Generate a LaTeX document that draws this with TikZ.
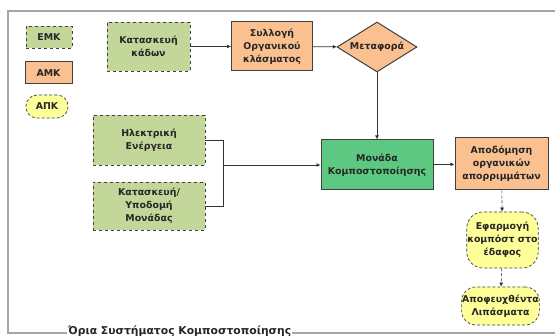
\documentclass[tikz,border=0pt]{standalone}
\usepackage{fontspec}
\setmainfont{DejaVu Sans}
\usetikzlibrary{shapes.geometric,arrows.meta}
\definecolor{emkgreen}{HTML}{C4D79B}
\definecolor{amkorange}{HTML}{FAC090}
\definecolor{apkyellow}{HTML}{FFFF99}
\definecolor{unitgreen}{HTML}{5CC882}
\definecolor{edgegray}{HTML}{404040}
\tikzset{
  lbl/.style={font=\bfseries\fontsize{9.4}{12.8}\selectfont, align=center, text=black!85, inner sep=0.5pt},
  emkbox/.style={lbl, draw=edgegray, dashed, line width=0.9pt, fill=emkgreen, minimum width=#1},
  amkbox/.style={lbl, draw=edgegray, line width=1pt, fill=amkorange},
  apkbox/.style={lbl, draw=edgegray, densely dashed, line width=0.7pt, fill=apkyellow, rounded corners=11pt},
  conn/.style={draw=black!80, line width=0.8pt},
  arr/.style={conn, -{Latex[length=4pt,width=4pt]}},
  darr/.style={arr, densely dashed, line width=0.6pt}
}
\begin{document}
\begin{tikzpicture}[x=1pt,y=-1pt]
\useasboundingbox (0,0) rectangle (555,336);
\fill[white] (0,0) rectangle (555,336);
% system boundary frame
\draw[gray!70, line width=1.6pt] (8,11) rectangle (575,333);
\node[anchor=north west, fill=white, inner sep=1pt, font=\bfseries\fontsize{10.8}{12}\selectfont, text=black!85] (bound) at (67,325) {Όρια Συστήματος Κομποστοποίησης};

% legend
\node[emkbox=46pt, minimum height=22pt] (emk) at (49,37) {ΕΜΚ};
\node[amkbox, minimum width=47pt, minimum height=22pt] (amk) at (48.5,73) {ΑΜΚ};
\node[apkbox, minimum width=42pt, minimum height=23pt] (apk) at (47,106.5) {ΑΠΚ};

% process nodes
\node[emkbox=83pt, minimum height=49pt] (kados) at (148.5,46.5) {Κατασκευή\\κάδων};
\node[amkbox, minimum width=81pt, minimum height=49pt] (syll) at (272,46.5) {Συλλογή\\Οργανικού\\κλάσματος};
\node[diamond, aspect=1.6, draw=edgegray, line width=1pt, fill=amkorange, lbl, minimum width=80pt, minimum height=50pt, inner sep=0pt] (metaf) at (377,47) {Μεταφορά};
\node[emkbox=112pt, minimum height=50pt] (ilek) at (149,140) {Ηλεκτρική\\Ενέργεια};
\node[emkbox=112pt, minimum height=48pt] (ypod) at (149,206) {Κατασκευή/\\Υποδομή\\Μονάδας};
\node[lbl, draw=edgegray, line width=1pt, fill=unitgreen, minimum width=112pt, minimum height=50pt] (unit) at (377,165) {Μονάδα\\Κομποστοποίησης};
\node[amkbox, minimum width=93pt, minimum height=52pt] (apod) at (501.5,164) {Αποδόμηση\\οργανικών\\απορριμμάτων};
\node[apkbox, minimum width=61pt, minimum height=56pt, rounded corners=16pt] (efar) at (502.5,240) {Εφαρμογή\\κομπόστ στο\\έδαφος};
\node[apkbox, minimum width=75pt, minimum height=38pt, rounded corners=14pt] (apof) at (500.5,306) {Αποφευχθέντα\\Λιπάσματα};

% connectors
\coordinate (join) at (223,165);
\draw[arr] (kados) -- (syll);
\draw[arr] (syll) -- (metaf);
\draw[arr] (metaf) -- (unit);
\draw[conn] (ilek.east) -- (ilek.east -| join) -- (ypod.east -| join) -- (ypod.east);
\draw[arr] (join) -- (unit);
\draw[arr] (unit) -- (apod);
\draw[darr] (apod) -- (efar);
\draw[darr] (efar) -- (apof);
\end{tikzpicture}
\end{document}
